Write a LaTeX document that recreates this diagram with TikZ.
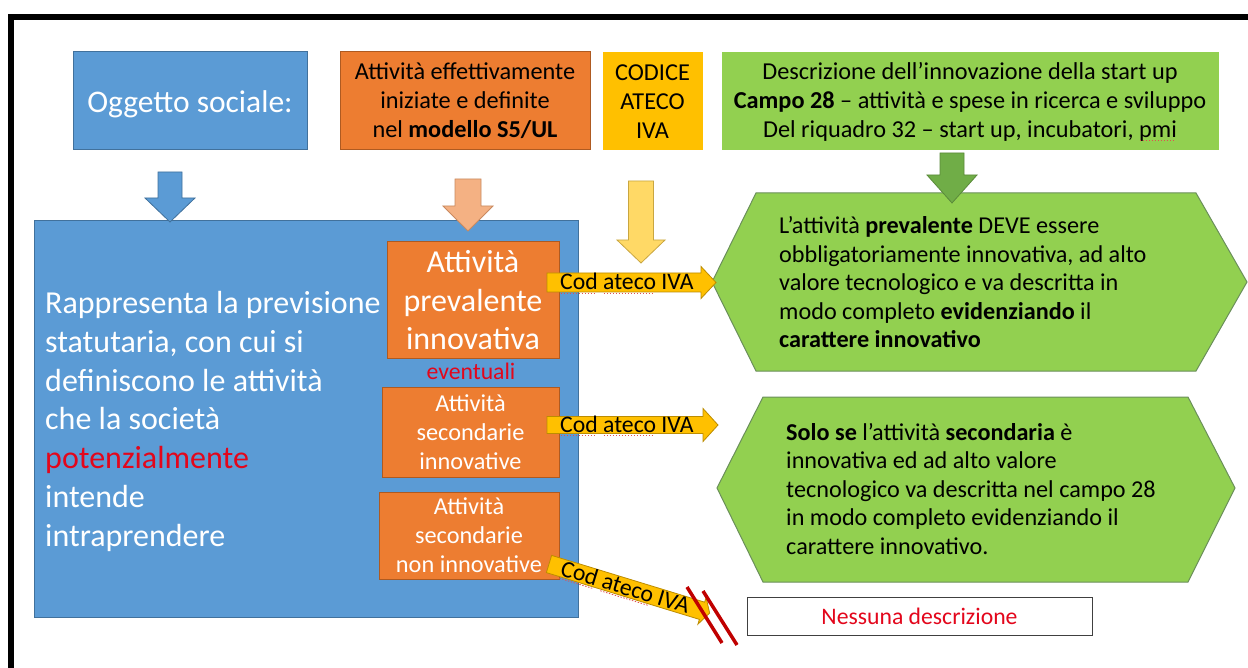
\documentclass[tikz,border=0pt]{standalone}
\usepackage{fontspec}
\setmainfont{Carlito}
\usetikzlibrary{calc}
\definecolor{cblue}{HTML}{5B9BD5}
\definecolor{cblueb}{HTML}{41719C}
\definecolor{corange}{HTML}{ED7D31}
\definecolor{coranb}{HTML}{AE5A21}
\definecolor{cyellow}{HTML}{FFC000}
\definecolor{cyellb}{HTML}{BC8C00}
\definecolor{cgreen}{HTML}{92D050}
\definecolor{cgreenb}{HTML}{6A8F5A}
\definecolor{cdgreen}{HTML}{70AD47}
\definecolor{cdgreenb}{HTML}{5A8A3A}
\definecolor{clorange}{HTML}{F4B183}
\definecolor{clorangeb}{HTML}{C98A60}
\definecolor{clyellow}{HTML}{FFD966}
\definecolor{clyellowb}{HTML}{C9A640}
\definecolor{cred}{HTML}{E3061B}
\definecolor{cdred}{HTML}{C00000}
\definecolor{cwave}{HTML}{E05050}
\newcommand\fsz[2]{\fontsize{#1}{#2}\selectfont}
\newsavebox\spbox
\newcommand\spell[1]{\sbox\spbox{#1}\leavevmode\rlap{\usebox\spbox}\raisebox{-3.5pt}{\textcolor{cwave}{\leaders\hbox to 3pt{\hss\rule{1.5pt}{0.8pt}\hss}\hskip\wd\spbox}}}
\tikzset{
  pics/downarr/.style n args={4}{code={%
    \path[pic actions] (-#1,0) -- (#1,0) -- (#1,#3) -- (#2,#3) -- (0,{#3+#4}) -- (-#2,#3) -- (-#1,#3) -- cycle;}},
  pics/rightarr/.style n args={4}{code={%
    \path[pic actions] (0,-#1) -- (#3,-#1) -- (#3,-#2) -- ({#3+#4},0) -- (#3,#2) -- (#3,#1) -- (0,#1) -- cycle;}},
  bluebox/.style={fill=cblue, draw=cblueb, line width=1pt, inner sep=0pt},
  orangebox/.style={fill=corange, draw=coranb, line width=1pt, inner sep=0pt, align=center},
  yellowbox/.style={fill=cyellow, draw=cyellow, line width=1pt, inner sep=0pt, align=center},
  greenbox/.style={fill=cgreen, draw=cgreen, line width=1pt, inner sep=0pt, align=center},
  hexshape/.style={fill=cgreen, draw=cgreenb, line width=1pt},
  codarrow/.style={fill=cyellow, draw=cyellb, line width=0.8pt},
  codtext/.style={inner sep=0pt, anchor=base west, font=\fsz{23.7}{28}},
  hextext/.style={anchor=base west, align=left, inner sep=0pt, font=\fsz{24.2}{28.5}},
  slash/.style={draw=cdred, line width=3.5pt},
  small/.style={font=\fsz{24.3}{29}},
}
\begin{document}
\begin{tikzpicture}[x=1pt,y=-1pt]
\useasboundingbox (0,0) rectangle (1248,668);
\fill[white] (0,0) rectangle (1248,668);
% frame
\fill[black] (8,14) rectangle (14,668);
\fill[black] (8,14) rectangle (1248,20);

% top row
\node[bluebox, minimum width=234, minimum height=98] (obj) at (190,101) {};
\node[anchor=base, inner sep=0pt, text=white, font=\fsz{31.5}{38}] (objtext) at (obj.center |- 0,113) {Oggetto sociale:};
\node[orangebox, small, minimum width=250, minimum height=98] (s5) at (465,101) {Attività effettivamente\\iniziate e definite\\nel \textbf{modello S5/UL}};
\node[yellowbox, small, minimum width=99, minimum height=97] (ateco) at (652.5,101.5) {CODICE\\ATECO\\IVA};
\node[greenbox, small, minimum width=496, minimum height=97] (descr) at (970,101.5) {Descrizione dell’innovazione della start up\\\textbf{Campo 28} – attività e spese in ricerca e sviluppo\\Del riquadro 32 – start up, incubatori, \spell{pmi}};

% main blue box
\node[bluebox, minimum width=544, minimum height=396] (main) at (306,419) {};
\node[anchor=base west, align=left, text=white, inner sep=0pt, font=\fsz{32}{38.7}] (maintext) at (45,546) {Rappresenta la previsione\\statutaria, con cui si\\definiscono le attività\\che la società\\\textcolor{cred}{potenzialmente}\\intende\\intraprendere};

% inner orange boxes
\node[orangebox, text=white, font=\fsz{32}{38.5}, minimum width=172, minimum height=117] (prev) at (473,300.5) {Attività\\prevalente\\innovativa};
\node[text=cred, font=\fsz{23.7}{28}, inner sep=0pt, anchor=base] (evt) at (471,380) {eventuali};
\node[orangebox, text=white, small, minimum width=177, minimum height=90] (secinn) at (470.5,432) {Attività\\secondarie\\innovative};
\node[orangebox, text=white, small, minimum width=180, minimum height=87] (secnon) at (469,535.5) {Attività\\secondarie\\non innovative};

% down block arrows
\pic[fill=cblue, draw=cblueb, line width=0.8pt] at (170,172) {downarr={12}{25}{26}{24}};
\pic[fill=clorange, draw=clorangeb, line width=0.8pt] at (468,179) {downarr={13}{25}{27}{25}};
\pic[fill=clyellow, draw=clyellowb, line width=0.8pt] at (641,181) {downarr={12.5}{24}{59}{23}};

% hexagons
\draw[hexshape] (712,282) -- (756,193) -- (1196,193) -- (1247,282) -- (1196,371) -- (756,371) -- cycle;
\draw[hexshape] (717,488) -- (763,397) -- (1188,397) -- (1235,488) -- (1188,582) -- (763,582) -- cycle;
\pic[fill=cdgreen, draw=cdgreenb, line width=0.8pt] at (952,153) {downarr={12}{25}{22}{28}};

\node[hextext] (hex1) at (779,348) {L’attività \textbf{prevalente} DEVE essere\\obbligatoriamente innovativa, ad alto\\valore tecnologico e va descritta in\\modo completo \textbf{evidenziando} il\\\textbf{carattere innovativo}};
\node[hextext] (hex2) at (786,554) {\textbf{Solo se} l’attività \textbf{secondaria} è\\innovativa ed ad alto valore\\tecnologico va descritta nel campo 28\\in modo completo evidenziando il\\carattere innovativo.};

% no description box
\node[draw=black!75, line width=1pt, fill=white, minimum width=345, minimum height=38, inner sep=0pt, text=cred, font=\fsz{23.7}{28}] (none) at (919.5,616) {Nessuna descrizione};

% Cod ateco arrows
\pic[codarrow] at (547,282.5) {rightarr={9.5}{16}{154}{15}};
\node[codtext] (cod1) at (560,290) {\spell{Cod} \spell{ateco} IVA};
\pic[codarrow] at (547,425) {rightarr={8.5}{16.5}{156}{15}};
\node[codtext] (cod2) at (560,432) {\spell{Cod} \spell{ateco} IVA};
\begin{scope}[shift={(549,564)}, rotate=-17]
  \path[codarrow] (0,-9) -- (160,-9) -- (160,-14) -- (168,0) -- (160,14) -- (160,9) -- (0,9) -- cycle;
  \node[codtext, transform shape] (cod3) at (13,7.5) {\spell{Cod} \spell{ateco} IVA};
\end{scope}
\draw[slash] (687,587) -- (722,643);
\draw[slash] (703,591) -- (737,645);
\end{tikzpicture}
\end{document}
